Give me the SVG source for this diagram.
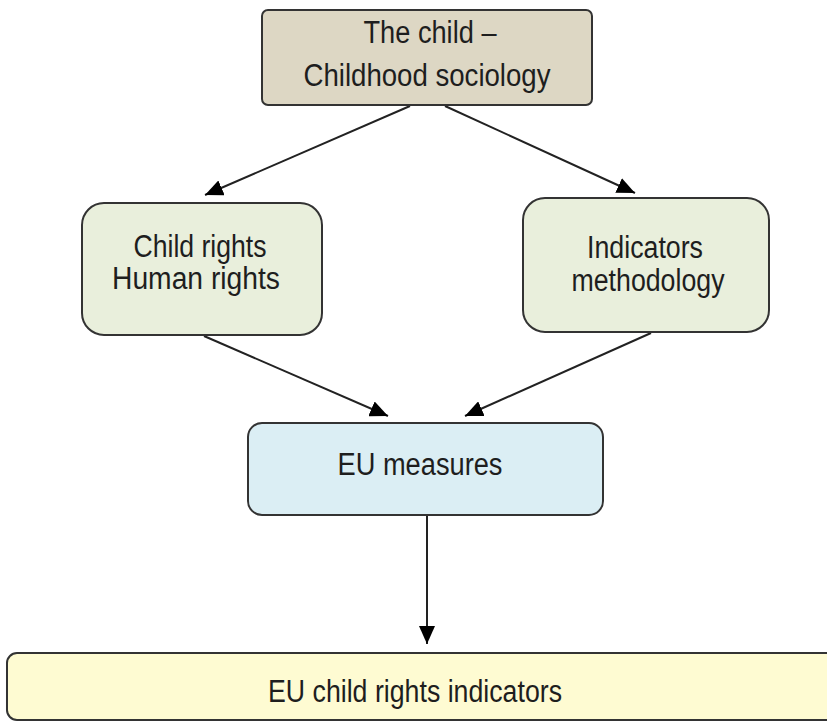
<svg xmlns="http://www.w3.org/2000/svg" width="827" height="722" viewBox="0 0 827 722">
<defs>
<style>
.box{stroke:#333;stroke-width:2}
.t{font-family:"Liberation Sans",Arial,sans-serif;font-size:31px;fill:#1e1e1e;text-anchor:middle}
.c{stroke:#222;stroke-width:2;fill:none;marker-end:url(#ah)}
</style>
<marker id="ah" markerUnits="userSpaceOnUse" markerWidth="20" markerHeight="16" refX="18" refY="8" orient="auto">
<path d="M0,0 L18,8 L0,16 Z" fill="#000"/>
</marker>
</defs>
<rect width="827" height="722" fill="#fff"/>
<g id="connectors">
<line class="c" x1="410" y1="106" x2="205" y2="195"/>
<line class="c" x1="445" y1="106" x2="635" y2="193"/>
<line class="c" x1="204" y1="336" x2="388" y2="416"/>
<line class="c" x1="651" y1="333" x2="465" y2="416"/>
<line class="c" x1="427" y1="516" x2="427" y2="644"/>
</g>
<g id="n-child">
<rect class="box" x="262" y="10" width="330" height="95" rx="6" fill="#ddd7c4"/>
<text class="t" x="430" y="43" textLength="133" lengthAdjust="spacingAndGlyphs">The child –</text>
<text class="t" x="427" y="86" textLength="247" lengthAdjust="spacingAndGlyphs">Childhood sociology</text>
</g>
<g id="n-rights">
<rect class="box" x="82" y="203" width="240" height="132" rx="22" fill="#e9efdc"/>
<text class="t" x="200" y="257" textLength="133" lengthAdjust="spacingAndGlyphs">Child rights</text>
<text class="t" x="196" y="289" textLength="168" lengthAdjust="spacingAndGlyphs">Human rights</text>
</g>
<g id="n-indicators">
<rect class="box" x="523" y="198" width="246" height="134" rx="22" fill="#e9efdc"/>
<text class="t" x="645" y="258" textLength="116" lengthAdjust="spacingAndGlyphs">Indicators</text>
<text class="t" x="648" y="291" textLength="153" lengthAdjust="spacingAndGlyphs">methodology</text>
</g>
<g id="n-eu">
<rect class="box" x="248" y="423" width="355" height="92" rx="14" fill="#dbeef4"/>
<text class="t" x="420" y="475" textLength="165" lengthAdjust="spacingAndGlyphs">EU measures</text>
</g>
<g id="n-euind">
<rect class="box" x="7" y="653" width="840" height="67" rx="10" fill="#fefbd2"/>
<text class="t" x="415" y="702" textLength="294" lengthAdjust="spacingAndGlyphs">EU child rights indicators</text>
</g>
</svg>
